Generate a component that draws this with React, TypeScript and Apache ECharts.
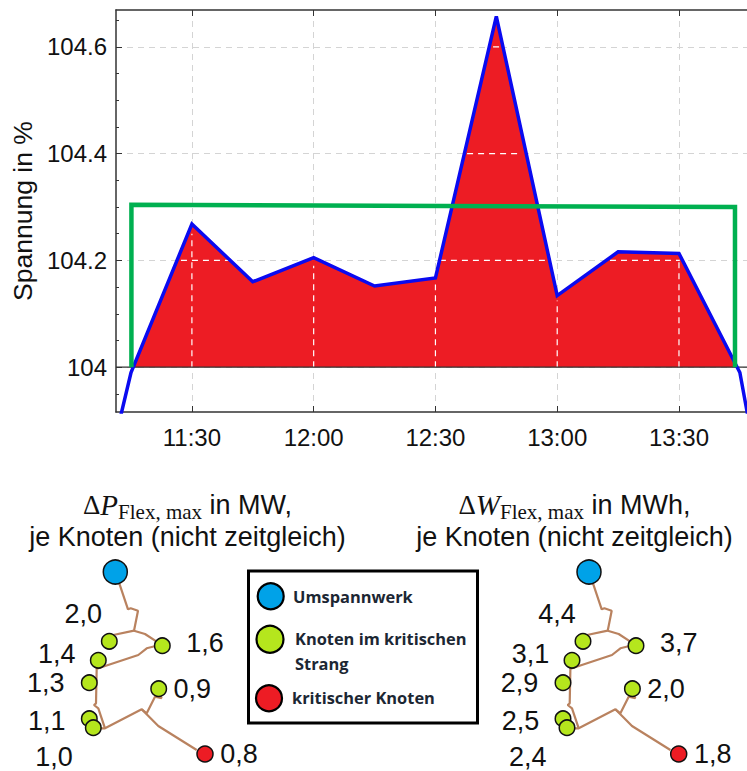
import React, { useEffect, useRef } from "react";
import * as echarts from "echarts";

// --- voltage chart (time in "hh:mm", voltage in %) ---
const xTickLabels = ["11:30", "12:00", "12:30", "13:00", "13:30"];
const yMajorTicks = [104, 104.2, 104.4, 104.6];
const yMinorTicks = [103.95, 104.05, 104.1, 104.15, 104.25, 104.3, 104.35, 104.45, 104.5, 104.55, 104.65];
const voltageTimes = ["11:00", "11:15", "11:30", "11:45", "12:00", "12:15", "12:30", "12:45", "13:00", "13:15", "13:30", "13:45", "14:00"];
const voltageValues = [103.51, 103.99, 104.268, 104.16, 104.205, 104.152, 104.167, 104.657, 104.134, 104.216, 104.213, 103.99, 103.37];
// exceedance above 104 %, start and end are the crossings
const fillTimes = ["11:15.7", "11:30", "11:45", "12:00", "12:15", "12:30", "12:45", "13:00", "13:15", "13:30", "13:44"];
const fillValues = [104, 104.268, 104.16, 104.205, 104.152, 104.167, 104.657, 104.134, 104.216, 104.213, 104];
const flexTimes = ["11:15.1", "11:15.1", "13:43.8", "13:43.8"];
const flexValues = [104, 104.304, 104.3, 104];
// grid lines showing through the red area
const whiteSegments: [string, number, string, number][] = [
  ["11:27.3", 104.2, "11:39.1", 104.2],
  ["12:31.1", 104.2, "12:57.7", 104.2],
  ["13:13", 104.2, "13:30.2", 104.2],
  ["12:37.8", 104.4, "12:51.1", 104.4],
  ["12:44.2", 104.6, "12:45.9", 104.6],
  ["11:30", 104, "11:30", 104.25],
  ["12:00", 104, "12:00", 104.19],
  ["12:30", 104, "12:30", 104.155],
  ["13:00", 104, "13:00", 104.125],
  ["13:30", 104, "13:30", 104.2],
];

// --- feeder network ---
const nodeX = [115.3, 109.3, 162.3, 98.3, 89.3, 158.7, 89.3, 93.3, 205];
const nodeY = [572, 641.3, 645.7, 660.3, 682.7, 688.7, 718.7, 727.7, 754];
const nodeKinds = ["station", "node", "node", "node", "node", "node", "node", "node", "critical"];
const feederPaths: [number, number][][] = [
  [[119.3, 583.3], [128, 609.3], [130.7, 608.3], [138, 610.7], [134, 630.7], [113.3, 635]],
  [[134, 630.7], [145, 634], [156.7, 641.7]],
  [[156.7, 645.7], [146.7, 648.3], [138.3, 655], [98.3, 668.3], [96.7, 668.3], [96, 703.3], [94, 705], [98.3, 708.3], [105, 728.3]],
  [[98, 728.3], [105, 728.3], [141.7, 709.3], [158.3, 726], [196.7, 750]],
  [[141.7, 709.3], [146.7, 713.3], [155, 696.7], [161.7, 698.3], [158.7, 693]],
];
const labelX = [83.3, 56.7, 45.7, 46.7, 54, 205, 192.3, 239];
const labelY = [614, 654.3, 682.7, 721.3, 757.3, 643.3, 689.3, 754];
const powerLabels = ["2,0", "1,4", "1,3", "1,1", "1,0", "1,6", "0,9", "0,8"];
const energyLabels = ["4,4", "3,1", "2,9", "2,5", "2,4", "3,7", "2,0", "1,8"];

const legendItems = ["Umspannwerk", "Knoten im kritischen", "Strang", "kritischer Knoten"];

const SANS = '"Liberation Sans", Arial, sans-serif';
const SERIF = '"Liberation Serif", "DejaVu Serif", serif';
const BLUE_NODE = "#00a2e8";
const GREEN_NODE = "#b5e61d";
const RED = "#ed1c24";
const EDGE = "#b9825f";
const INK = "#111";

const toMin = (t: string) => {
  const [h, m] = t.split(":");
  return +h * 60 + +m;
};
const fmtMin = (v: number) => {
  const h = Math.floor(v / 60);
  const m = Math.round(v - h * 60);
  return `${h}:${String(m).padStart(2, "0")}`;
};
const zip = (ts: string[], vs: number[]) => ts.map((t, i) => [toMin(t), vs[i]]);

const X_MIN = 671.3;
const X_MAX = 826.76;
const Y_MIN = 103.916;
const Y_MAX = 104.669;

function networkSeries(idx: number, labels: string[]) {
  const axis = { xAxisIndex: idx + 2, yAxisIndex: idx + 2 };
  const kindColor: Record<string, string> = { station: BLUE_NODE, node: GREEN_NODE, critical: RED };
  const kindSize: Record<string, number> = { station: 24, node: 15.5, critical: 16 };
  return [
    ...feederPaths.map((p) => ({
      type: "line",
      ...axis,
      data: p,
      symbol: "none",
      silent: true,
      z: 3,
      lineStyle: { color: EDGE, width: 2.2 },
    })),
    {
      type: "scatter",
      ...axis,
      z: 4,
      silent: true,
      data: nodeX.map((x, i) => ({
        value: [x, nodeY[i]],
        symbolSize: kindSize[nodeKinds[i]],
        itemStyle: { color: kindColor[nodeKinds[i]], borderColor: "#111", borderWidth: 1.5, opacity: 1 },
      })),
    },
    {
      type: "scatter",
      ...axis,
      z: 5,
      silent: true,
      symbolSize: 1,
      itemStyle: { color: "transparent", opacity: 1 },
      label: {
        show: true,
        position: "inside",
        formatter: (p: any) => labels[p.dataIndex],
        fontFamily: SANS,
        fontSize: 27,
        color: INK,
        opacity: 1,
      },
      data: labelX.map((x, i) => [x, labelY[i]]),
    },
  ];
}

function networkAxes(gridIndex: number) {
  return {
    x: { type: "value", gridIndex, min: 0, max: 260, show: false },
    y: { type: "value", gridIndex, min: 550, max: 771, inverse: true, show: false },
  };
}

function titleRich(sym: string, unit: string) {
  const base = { color: INK, lineHeight: 32, fontWeight: "normal" };
  return {
    text: `{d|Δ}{p|${sym}}{s|Flex, max}{t| in ${unit},}\n{l|je Knoten (nicht zeitgleich)}`,
    textAlign: "center",
    top: 484,
    textStyle: {
      fontWeight: "normal",
      rich: {
        d: { ...base, fontFamily: SERIF, fontSize: 27 },
        p: { ...base, fontFamily: SERIF, fontStyle: "italic", fontSize: 29 },
        s: { ...base, fontFamily: SERIF, fontSize: 21, verticalAlign: "top", padding: [12, 0, 0, 0] },
        t: { ...base, fontFamily: SANS, fontSize: 27 },
        l: { ...base, fontFamily: SANS, fontSize: 27 },
      },
    },
  };
}

export default function App() {
  const ref = useRef<HTMLDivElement>(null);
  useEffect(() => {
    const chart = echarts.init(ref.current!, undefined, { renderer: "svg" });
    const xCustom = xTickLabels.map(toMin);
    const n1 = networkAxes(1);
    const n2 = networkAxes(2);
    chart.setOption({
      animation: false,
      backgroundColor: "#fff",
      title: [
        { ...titleRich("P", "MW"), left: 182.5 },
        { ...titleRich("W", "MWh"), left: 569.5 },
      ],
      grid: [
        { left: 116, top: 10, width: 631, height: 402, outerBoundsMode: "none" },
        { left: 0, top: 550, width: 260, height: 221, outerBoundsMode: "none" },
        { left: 473.7, top: 550, width: 260, height: 221, outerBoundsMode: "none" },
      ],
      xAxis: [
        {
          type: "value",
          gridIndex: 0,
          min: X_MIN,
          max: X_MAX,
          axisLine: { show: true, onZero: false, lineStyle: { color: "#333", width: 1.5 } },
          axisTick: { show: true, inside: true, length: 6, customValues: xCustom, lineStyle: { color: "#333", width: 1 } },
          axisLabel: { customValues: xCustom, formatter: (v: number) => fmtMin(v), fontFamily: SANS, fontSize: 24, color: INK, margin: 13 },
          splitLine: { show: true, lineStyle: { type: [6, 5], color: "#d4d4d4", width: 1 } },
        },
        {
          type: "value",
          gridIndex: 0,
          position: "top",
          min: X_MIN,
          max: X_MAX,
          axisLine: { show: true, onZero: false, lineStyle: { color: "#333", width: 1.5 } },
          axisTick: { show: true, inside: true, length: 6, customValues: xCustom, lineStyle: { color: "#333", width: 1 } },
          axisLabel: { show: false },
          splitLine: { show: false },
        },
        n1.x,
        n2.x,
      ],
      yAxis: [
        {
          type: "value",
          gridIndex: 0,
          min: Y_MIN,
          max: Y_MAX,
          name: "Spannung in %",
          nameLocation: "middle",
          nameGap: 70,
          nameRotate: 90,
          nameTextStyle: { fontFamily: SANS, fontSize: 26.5, color: INK },
          axisLine: { show: true, onZero: false, lineStyle: { color: "#333", width: 1.5 } },
          axisTick: { show: true, inside: true, length: 6, customValues: yMajorTicks, lineStyle: { color: "#333", width: 1 } },
          axisLabel: {
            customValues: yMajorTicks,
            formatter: (v: number) => (v === 104 ? "104" : v.toFixed(1)),
            fontFamily: SANS,
            fontSize: 24,
            color: INK,
            margin: 9,
          },
          splitLine: { show: true, lineStyle: { type: [6, 5], color: "#d4d4d4", width: 1 } },
        },
        {
          type: "value",
          gridIndex: 0,
          position: "left",
          min: Y_MIN,
          max: Y_MAX,
          axisLine: { show: false },
          axisTick: { show: true, inside: true, length: 3, customValues: yMinorTicks, lineStyle: { color: "#333", width: 1 } },
          axisLabel: { show: false },
          splitLine: { show: false },
        },
        n1.y,
        n2.y,
      ],
      series: [
        {
          type: "line",
          data: zip(fillTimes, fillValues),
          symbol: "none",
          z: 2,
          lineStyle: { width: 0 },
          areaStyle: { color: RED, opacity: 1, origin: 104 },
        },
        ...whiteSegments.map(([t0, v0, t1, v1]) => ({
          type: "line",
          data: [[toMin(t0), v0], [toMin(t1), v1]],
          symbol: "none",
          z: 3,
          lineStyle: { color: "#fff", width: 1.2, type: [6, 5] },
        })),
        {
          type: "line",
          data: [[X_MIN, 104], [X_MAX, 104]],
          symbol: "none",
          z: 4,
          lineStyle: { color: "#333", width: 1.2 },
        },
        {
          type: "line",
          data: zip(voltageTimes, voltageValues),
          symbol: "none",
          z: 5,
          lineStyle: { color: "#0a0af0", width: 3.5, join: "miter" },
        },
        {
          type: "line",
          data: zip(flexTimes, flexValues),
          symbol: "none",
          z: 6,
          lineStyle: { color: "#00b050", width: 4.5, join: "miter" },
        },
        ...networkSeries(0, powerLabels),
        ...networkSeries(1, energyLabels),
      ],
      graphic: [
        { type: "rect", shape: { x: 248.5, y: 571, width: 229, height: 152 }, style: { fill: "#fff", stroke: "#000", lineWidth: 3 } },
        { type: "circle", shape: { cx: 270.7, cy: 596.3, r: 13 }, style: { fill: BLUE_NODE, stroke: "#000", lineWidth: 2.2 } },
        { type: "circle", shape: { cx: 270, cy: 639.3, r: 13.5 }, style: { fill: GREEN_NODE, stroke: "#000", lineWidth: 2.2 } },
        { type: "circle", shape: { cx: 269, cy: 698.3, r: 13 }, style: { fill: RED, stroke: "#000", lineWidth: 2.2 } },
        ...legendItems.map((text, i) => ({
          type: "text",
          x: [293, 295, 295, 292][i],
          y: [596, 638, 663, 697][i],
          style: {
            text,
            fontFamily: '"Open Sans", "Noto Sans", sans-serif',
            fontWeight: 700,
            fontSize: 16.4,
            fill: "#1c2733",
            verticalAlign: "middle",
          },
        })),
      ],
    });
    return () => chart.dispose();
  }, []);
  return <div ref={ref} style={{ position: "absolute", left: 0, top: 0, width: 747, height: 771 }} />;
}
